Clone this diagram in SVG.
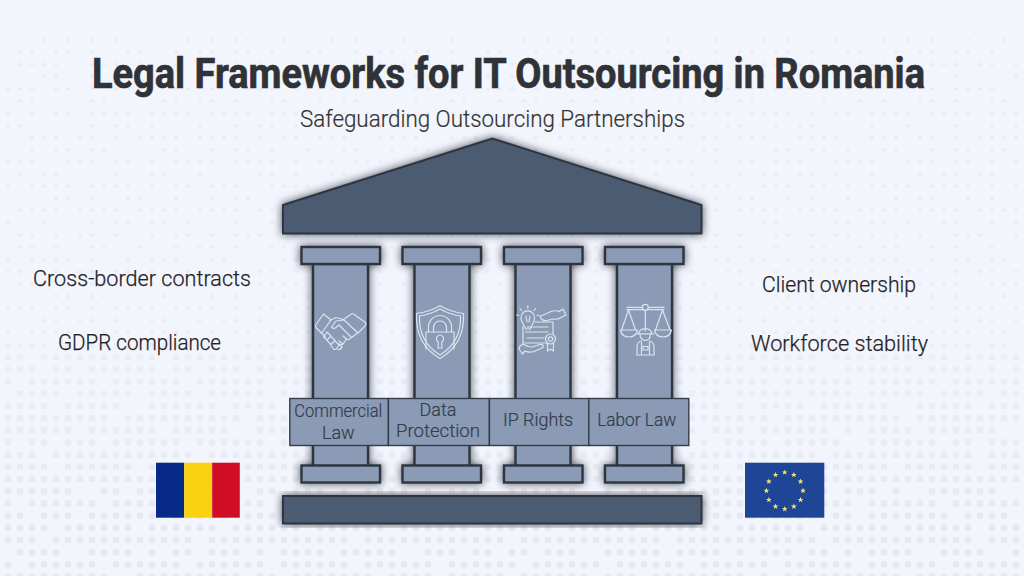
<svg xmlns="http://www.w3.org/2000/svg" width="1024" height="576" viewBox="0 0 1024 576">
<style>
text{font-family:"Roboto","Liberation Sans",sans-serif}
.title{font-size:42px;font-weight:700;fill:#2f3237;stroke:#2f3237;stroke-width:.7}
.sub{font-size:24px;font-weight:300;fill:#333;stroke:#333;stroke-width:.2}
.side{font-size:22.5px;font-weight:300;fill:#1f2226;stroke:#1f2226;stroke-width:.25}
.band{font-size:18px;font-weight:300;fill:#333c4a;stroke:#333c4a;stroke-width:.2;text-anchor:middle}
.dark{fill:#4b5b72;stroke:#2d3540;stroke-width:2}
.col{fill:#8b9bb5;stroke:#2d3540;stroke-width:2.4}
.cell{fill:#8b9bb5;stroke:#323c4a;stroke-width:1.4}
.ico{fill:none;stroke:#dce3ee;stroke-width:1.2;stroke-linecap:round;stroke-linejoin:round}
.star{fill:#f2e27a}
.hole{fill:#f3f5fd}
</style>
<defs>
<filter id="sh" x="-15%" y="-15%" width="130%" height="130%">
<feDropShadow dx="0" dy="0" stdDeviation="4.2" flood-color="#1c222b" flood-opacity=".8"/>
</filter>
<filter id="soft" filterUnits="userSpaceOnUse" x="0" y="0" width="1024" height="576"><feGaussianBlur stdDeviation=".6"/></filter>
<pattern id="big" patternUnits="userSpaceOnUse" x="2" y="-2.8" width="12" height="12.2"><rect x="2.8" y="3" width="6.4" height="6.2" rx="1.2" fill="#dcdfe8"/></pattern>
<pattern id="small" patternUnits="userSpaceOnUse" x="2" y="-2.8" width="12" height="12.2"><rect x="4.2" y="4.4" width="3.6" height="3.4" rx="1" fill="#dcdfe8"/></pattern>
<pattern id="ha" patternUnits="userSpaceOnUse" x="2" y="-2.8" width="84" height="61">
<rect class="hole" x="12" y="12.2" width="12" height="12.2"/><rect class="hole" x="48" y="36.6" width="12" height="12.2"/><rect class="hole" x="72" y="0" width="12" height="12.2"/>
</pattern>
<pattern id="hb" patternUnits="userSpaceOnUse" x="2" y="-2.8" width="132" height="158.6">
<rect class="hole" x="24" y="36.6" width="12" height="12.2"/><rect class="hole" x="84" y="12.2" width="12" height="12.2"/><rect class="hole" x="108" y="97.6" width="12" height="12.2"/><rect class="hole" x="48" y="122" width="12" height="12.2"/><rect class="hole" x="0" y="73.2" width="12" height="12.2"/><rect class="hole" x="60" y="73.2" width="12" height="12.2"/>
</pattern>
<pattern id="hc" patternUnits="userSpaceOnUse" x="2" y="-2.8" width="156" height="85.4">
<rect class="hole" x="36" y="24.4" width="12" height="12.2"/><rect class="hole" x="120" y="61" width="12" height="12.2"/><rect class="hole" x="72" y="0" width="12" height="12.2"/>
</pattern>
<pattern id="hd" patternUnits="userSpaceOnUse" x="2" y="-2.8" width="60" height="36.6">
<rect class="hole" x="12" y="0" width="12" height="12.2"/><rect class="hole" x="36" y="12.2" width="12" height="12.2"/><rect class="hole" x="0" y="24.4" width="12" height="12.2"/>
</pattern>
<pattern id="he" patternUnits="userSpaceOnUse" x="2" y="-2.8" width="36" height="48.8">
<rect class="hole" x="0" y="0" width="12" height="12.2"/><rect class="hole" x="24" y="24.4" width="12" height="12.2"/>
</pattern>
<linearGradient id="fade" gradientUnits="userSpaceOnUse" x1="0" y1="340" x2="0" y2="540"><stop offset="0" stop-color="#fff" stop-opacity=".45"/><stop offset="1" stop-color="#fff" stop-opacity="1"/></linearGradient>
<mask id="fadeBig" maskUnits="userSpaceOnUse" x="0" y="340" width="1024" height="236"><rect x="0" y="340" width="1024" height="236" fill="url(#fade)"/></mask>
<polygon id="st" class="star" points="0,-3 .75,-.95 2.85,-.93 1.2,.36 1.76,2.43 0,1.2 -1.76,2.43 -1.2,.36 -2.85,-.93 -.75,-.95"/>
</defs>

<g id="background">
<rect width="1024" height="576" fill="#f3f5fd"/>
<g filter="url(#soft)">
<rect x="0" y="345" width="1024" height="231" fill="url(#big)" opacity=".6" mask="url(#fadeBig)"/>
<rect x="6" y="33" width="1012" height="312" fill="url(#small)" opacity=".42"/>
<rect x="0" y="0" width="1024" height="576" fill="url(#ha)"/>
<rect x="0" y="0" width="1024" height="576" fill="url(#hb)"/>
<rect x="0" y="0" width="1024" height="576" fill="url(#hc)"/>
<rect x="0" y="0" width="1024" height="340" fill="url(#hd)"/>
<rect x="0" y="0" width="1024" height="340" fill="url(#he)"/>
</g>
</g>

<g id="title"><text class="title" x="92" y="88" textLength="833" lengthAdjust="spacingAndGlyphs">Legal Frameworks for IT Outsourcing in Romania</text></g>
<g id="subtitle"><text class="sub" x="300" y="127" textLength="385" lengthAdjust="spacingAndGlyphs">Safeguarding Outsourcing Partnerships</text></g>

<g id="roof" filter="url(#sh)"><polygon class="dark" points="283,205 492.3,138.5 701.5,205 701.5,233.5 283,233.5"/></g>
<g id="base" filter="url(#sh)"><rect class="dark" x="283" y="496" width="418.5" height="27.5"/></g>

<g id="pillars" filter="url(#sh)">
<g id="pillar-commercial">
<rect class="col" x="313" y="264" width="55" height="202"/>
<rect class="col" x="301.5" y="247" width="78.5" height="17"/>
<rect class="col" x="301.5" y="465.5" width="78.5" height="17"/>
</g>
<g id="pillar-data">
<rect class="col" x="414.5" y="264" width="55" height="202"/>
<rect class="col" x="402.5" y="247" width="78.5" height="17"/>
<rect class="col" x="402.5" y="465.5" width="78.5" height="17"/>
</g>
<g id="pillar-ip">
<rect class="col" x="515.5" y="264" width="55" height="202"/>
<rect class="col" x="504" y="247" width="78.5" height="17"/>
<rect class="col" x="504" y="465.5" width="78.5" height="17"/>
</g>
<g id="pillar-labor">
<rect class="col" x="617" y="264" width="55" height="202"/>
<rect class="col" x="605" y="247" width="78.5" height="17"/>
<rect class="col" x="605" y="465.5" width="78.5" height="17"/>
</g>
</g>

<g id="icon-handshake" class="ico">
<path d="M323.5,314 L331,320 L321.5,333 L316,327.5 Q315,326 316,324.5 Z"/>
<path d="M351.5,314 L343.5,319.5 L358,333 L365.5,325.5 Q366.5,324 365.5,322.5 L353.5,314 Q352.5,313.5 351.5,314 Z"/>
<path d="M330,320.5 L336,317.5 L343.5,319.5 M344,320 L336,321 L331.5,327 Q333,329.5 336,327.5 L339,325 L351,337 M321.5,333 L325.5,337 M357.5,333 L351,338 Q349,340.5 346.5,339 L343,344 Q341,345.5 339,344"/>
<path d="M327,332 L331,336 L327,340 L323.5,337 Z M330.5,336 L335,340.5 L331,344.5 L327,340.5 M334.5,340.5 L339,345 L336.5,349 Q335,350 333.5,349 L330.5,345 M339,344 L342,347 Q341,350 338,349.5 M346.5,339 L343,336 M343,344 L339,341"/>
</g>

<g id="icon-shield" class="ico">
<path d="M440,305.7 Q451,312 463.5,313.5 Q465,344 440,358.5 Q415,344 416.5,313.5 Q429,312 440,305.7 Z"/>
<path d="M440,309 Q450,314.5 460.5,316 Q461.5,342 440,355 Q418.5,342 419.5,316 Q430,314.5 440,309 Z"/>
<path d="M426,332 H454 M426,332 V349 M454,332 V349"/>
<path d="M428.5,332 V327 A11.5,11.5 0 0 1 451.5,327 V332 M433.5,332 V327.5 A6.5,6.5 0 0 1 446.5,327.5 V332"/>
<path d="M438.3,342 A3.6,3.6 0 1 1 441.7,342 L442,348 H438 Z"/>
</g>

<g id="icon-certificate" class="ico">
<path d="M523,326 V343 H547 M535,322 H553 V334 M527,327 H548 M531,332 H548 M527,338 H544"/>
<circle cx="550.5" cy="339" r="5"/><circle cx="550.5" cy="339" r="2.2"/>
<path d="M547.5,343.5 V351 L550.5,349 L553.5,351 V343.5"/>
<path d="M525.5,329 C525,325 521,322.5 521,318.5 A6.8,6.8 0 1 1 534.5,318.5 C534.5,322.5 531,325 530.5,329 Z M525.5,332 H530.5 M527,322 L526,316 M529,322 L530,316"/>
<path d="M527.8,306 V308.5 M520,308.5 L521.5,310.5 M535.5,308.5 L534,310.5 M516.5,315 L518.5,315.5 M539,315 L537,315.5"/>
<path d="M540,316.5 L551,311.5 Q555,310 559,311.5 L563,309 L566,315 L562,317 Q558,320 553,319 L547,320.5 Q542,321.5 540,316.5 Z"/>
<path d="M520,346 L523,344 Q527,347 532,347 L540,344.5 Q544,344 543,347.5 L534,351.5 Q529,353 525,351 L522.5,354 L519,349 Z"/>
</g>

<g id="icon-scales" class="ico">
<path d="M627,307.3 H642 M648.6,307.3 H664 M627,309.7 H642.5 M648,309.7 H664"/>
<circle cx="645.3" cy="307.3" r="3"/>
<path d="M645.3,310.3 V327"/>
<path d="M628.5,310 L621.5,330 M628.5,310 L635.5,330 M620.5,330 H637.5 Q636,337 629,337 Q622,337 620.5,330 Z"/>
<path d="M662.5,310 L655.5,330 M662.5,310 L670,330 M654.5,330 H671.5 Q670,337 663,337 Q656,337 654.5,330 Z"/>
<path d="M638.5,333.5 A7,6.5 0 0 1 652,333.5 M636.8,333.8 H653.8 M645.3,327.5 V331"/>
<path d="M640,334 Q640,340 645.3,340.5 Q650.5,340 650.5,334"/>
<path d="M641,341 Q637,342.5 637,347 V355 H654 V347 Q654,342.5 649.5,341 M641.5,342 V355 M649.5,342 V355 M643,346.5 H648 V350 H643 Z"/>
</g>

<g id="frameworks-band">
<rect class="cell" x="289.8" y="398.5" width="98.6" height="47"/>
<rect class="cell" x="388.4" y="398.5" width="101" height="47"/>
<rect class="cell" x="489.4" y="398.5" width="99.4" height="47"/>
<rect class="cell" x="588.8" y="398.5" width="100" height="47"/>
<text class="band" x="338.3" y="417" textLength="88" lengthAdjust="spacingAndGlyphs">Commercial</text>
<text class="band" x="338.3" y="439">Law</text>
<text class="band" x="438" y="415.5">Data</text>
<text class="band" x="438" y="437" textLength="84" lengthAdjust="spacingAndGlyphs">Protection</text>
<text class="band" x="538" y="426" textLength="70" lengthAdjust="spacingAndGlyphs">IP Rights</text>
<text class="band" x="636.7" y="426" textLength="79" lengthAdjust="spacingAndGlyphs">Labor Law</text>
</g>

<g id="left-notes">
<text class="side" x="33" y="286" textLength="218" lengthAdjust="spacingAndGlyphs">Cross-border contracts</text>
<text class="side" x="58" y="350" textLength="163" lengthAdjust="spacingAndGlyphs">GDPR compliance</text>
</g>
<g id="right-notes">
<text class="side" x="762" y="291.7" textLength="154" lengthAdjust="spacingAndGlyphs">Client ownership</text>
<text class="side" x="751" y="350.5" textLength="177" lengthAdjust="spacingAndGlyphs">Workforce stability</text>
</g>

<g id="flag-romania">
<rect x="156" y="462.7" width="28.2" height="55" fill="#062a85"/>
<rect x="184.2" y="462.7" width="28" height="55" fill="#fbd20f"/>
<rect x="212.2" y="462.7" width="27.6" height="55" fill="#cf0e25"/>
</g>
<g id="flag-eu">
<rect x="745" y="462.7" width="79.3" height="55" fill="#1f4596"/>
<use href="#st" x="784.7" y="472.4"/><use href="#st" x="793.85" y="474.85"/><use href="#st" x="800.55" y="481.55"/><use href="#st" x="803" y="490.7"/><use href="#st" x="800.55" y="499.85"/><use href="#st" x="793.85" y="506.55"/><use href="#st" x="784.7" y="509"/><use href="#st" x="775.55" y="506.55"/><use href="#st" x="768.85" y="499.85"/><use href="#st" x="766.4" y="490.7"/><use href="#st" x="768.85" y="481.55"/><use href="#st" x="775.55" y="474.85"/>
</g>
</svg>
